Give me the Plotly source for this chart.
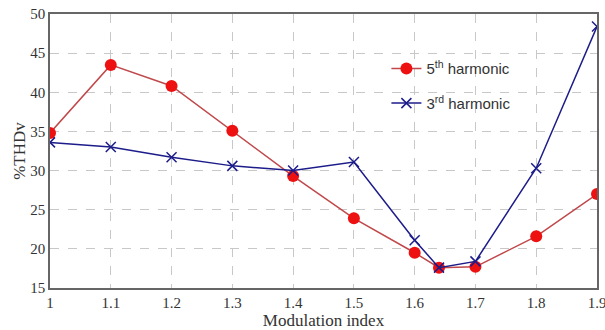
import plotly.graph_objects as go

mod_index = [1.0, 1.1, 1.2, 1.3, 1.4, 1.5, 1.6, 1.64, 1.7, 1.8, 1.9]
thd_5th = [34.8, 43.5, 40.8, 35.1, 29.3, 23.9, 19.5, 17.6, 17.7, 21.6, 27.0]
thd_3rd = [33.6, 33.0, 31.7, 30.6, 30.0, 31.1, 21.1, 17.6, 18.4, 30.3, 48.4]
x_ticks = [1.0, 1.1, 1.2, 1.3, 1.4, 1.5, 1.6, 1.7, 1.8, 1.9]
x_tick_labels = ["1", "1.1", "1.2", "1.3", "1.4", "1.5", "1.6", "1.7", "1.8", "1.9"]
y_ticks = [15, 20, 25, 30, 35, 40, 45, 50]

fig = go.Figure()
fig.add_trace(go.Scatter(
    x=mod_index, y=thd_5th, mode="lines+markers",
    name="5<sup>th</sup> harmonic", legendgroup="a",
    line=dict(color="#c0484a", width=1.5),
    marker=dict(symbol="circle", size=12, color="#ee1111", line=dict(width=0)),
))
fig.add_trace(go.Scatter(
    x=mod_index, y=thd_3rd, mode="lines+markers",
    name="3<sup>rd</sup> harmonic", legendgroup="b",
    line=dict(color="#1c1c8a", width=1.5),
    marker=dict(symbol="x-thin", size=10, color="#1c1c8a",
                line=dict(width=1.5, color="#1c1c8a")),
))

axis_common = dict(
    showline=True, linecolor="#666666", linewidth=1.5, mirror=True,
    showgrid=True, gridcolor="#c8c8c8", griddash="dash", gridwidth=1,
    zeroline=False, ticks="", automargin=False, ticklabeloverflow="allow",
    tickfont=dict(family="Liberation Serif", size=15, color="#333333"),
)

fig.update_layout(
    width=605, height=330,
    margin=dict(l=50, r=8, t=14, b=42),
    paper_bgcolor="white", plot_bgcolor="white",
    showlegend=True,
    legend=dict(
        x=0.615, y=0.86, xanchor="left", yanchor="top",
        bgcolor="rgba(0,0,0,0)", borderwidth=0,
        font=dict(family="Liberation Sans", size=15, color="#333333"),
        tracegroupgap=12,
    ),
    xaxis=dict(
        range=[1.0, 1.9], tickvals=x_ticks, ticktext=x_tick_labels,
        title=dict(text="Modulation index", standoff=0,
                   font=dict(family="Liberation Serif", size=17, color="#333333")),
        **axis_common,
    ),
    yaxis=dict(
        range=[15, 50], tickvals=y_ticks,
        title=dict(text="%THDv", standoff=0,
                   font=dict(family="Liberation Serif", size=17, color="#333333")),
        **axis_common,
    ),
)

fig.write_html("out.html", config={"displayModeBar": False},
               post_script="document.body.style.margin='0';")
